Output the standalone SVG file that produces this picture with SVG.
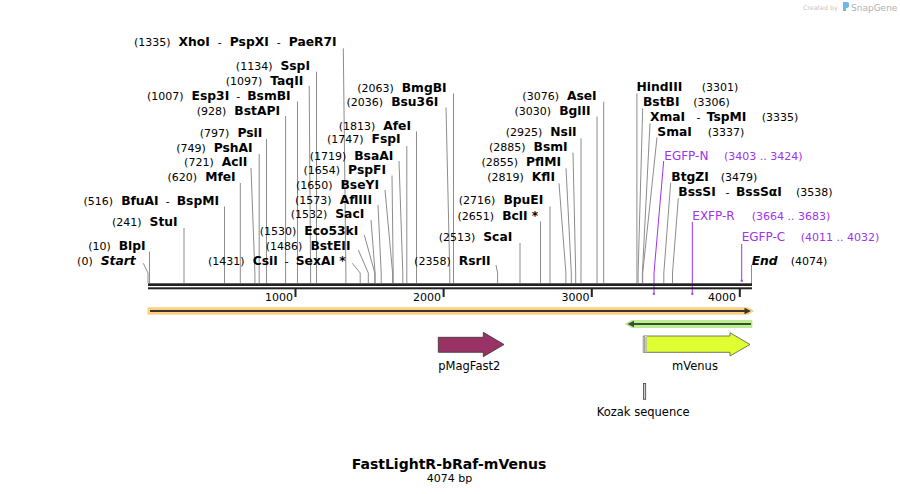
<svg xmlns="http://www.w3.org/2000/svg" width="900" height="494" viewBox="0 0 900 494">
<style>
text{font-family:"DejaVu Sans",Verdana,sans-serif;fill:#000}
.n{font-size:11px}
.b{font-size:12.3px;font-weight:bold}
.bi{font-size:12.3px;font-weight:bold;font-style:italic}
.p{fill:#a033ee}
.pf{font-size:12px}
.f{font-size:11.5px}
.ld{fill:none;stroke:#8c8c8c;stroke-width:1}
.pl{fill:none;stroke:#a033ee;stroke-width:1}
.seq{fill:#222}
</style>
<rect width="900" height="494" fill="#fff"/>

<g id="watermark">
<text x="803" y="10" style="font-size:6.3px;fill:#c4c4c4">Created by</text>
<path d="M843,2 h4 a2,2 0 0 1 2,2 v2 a2,2 0 0 1 -2,2 h-1 v3 h-3 z" fill="#6fb7e8"/>
<text x="851" y="11" style="font-size:9px;fill:#b0b0b0">SnapGene</text>
</g>

<g id="connectors">
<path class="pl" d="M663.7,161 L654,273 V294"/>
<rect x="652.8" y="292.8" width="2" height="2" fill="#a033ee"/>
<path class="pl" d="M692.3,222 V294"/>
<rect x="691.3" y="292.8" width="2" height="2" fill="#a033ee"/>
<path class="pl" d="M741.7,244 V281"/>
<rect x="740.7" y="279.8" width="2" height="2" fill="#a033ee"/>

<path class="ld" d="M343.3,48.3 L345.9,273 V283"/>
<path class="ld" d="M316.5,71.7 V283"/>
<path class="ld" d="M309.2,85.7 L310.6,273 V283"/>
<path class="ld" d="M297.5,101.5 V283"/>
<path class="ld" d="M285.6,116 V283"/>
<path class="ld" d="M266.5,139 V283"/>
<path class="ld" d="M259.2,154 V283"/>
<path class="ld" d="M251,168 L254.9,273 V283"/>
<path class="ld" d="M240.3,183 V283"/>
<path class="ld" d="M224.5,206.5 V283"/>
<path class="ld" d="M184,228 V283"/>
<path class="ld" d="M149.5,251.5 V283"/>
<path class="ld" d="M143.3,263.3 L148,273 V283"/>
<path class="ld" d="M352.3,263.3 L360.2,273 V283"/>
<path class="ld" d="M358.3,250 L368.3,273 V283"/>
<path class="ld" d="M364.3,235 L374.8,273 V283"/>
<path class="ld" d="M371,220 L375.1,273 V283"/>
<path class="ld" d="M378,205 L381.2,273 V283"/>
<path class="ld" d="M385,190 L392.6,273 V283"/>
<path class="ld" d="M392,175.5 L393.2,273 V283"/>
<path class="ld" d="M399,161 L402.8,273 V283"/>
<path class="ld" d="M406.8,146 V283"/>
<path class="ld" d="M416.5,131.5 V283"/>
<path class="ld" d="M446,107.5 L449.8,273 V283"/>
<path class="ld" d="M453.5,93.5 V283"/>
<path class="ld" d="M496,265 L497.6,273 V283"/>
<path class="ld" d="M520,243 V283"/>
<path class="ld" d="M540.5,221.5 V283"/>
<path class="ld" d="M550,206.5 V283"/>
<path class="ld" d="M559,183.3 L565.9,273 V283"/>
<path class="ld" d="M566,168.3 L571.3,273 V283"/>
<path class="ld" d="M573,152.7 L575.7,273 V283"/>
<path class="ld" d="M581,138.3 V283"/>
<path class="ld" d="M597,116.5 V283"/>
<path class="ld" d="M603.7,101.7 V283"/>
<path class="ld" d="M636.9,93.3 V283"/>
<path class="ld" d="M642.7,108.3 L638.1,273 V283"/>
<path class="ld" d="M650,123.3 L642.4,273 V283"/>
<path class="ld" d="M657,137.3 L642.7,273 V283"/>
<path class="ld" d="M670.7,182.7 L663.8,273 V283"/>
<path class="ld" d="M678.3,198.3 L672.5,273 V283"/>
<path class="ld" d="M751.5,265 V285"/>
</g>

<g id="sequence">
<rect class="seq" x="148" y="283.3" width="604" height="2.7"/>
<rect class="seq" x="148" y="287.3" width="604" height="2"/>
<rect class="seq" x="294.5" y="289" width="2" height="8"/>
<rect class="seq" x="442.6" y="289" width="2" height="8"/>
<rect class="seq" x="590.8" y="289" width="2" height="8"/>
<rect class="seq" x="738.8" y="289" width="2" height="8"/>
<text class="n" x="293" y="301" text-anchor="end">1000</text>
<text class="n" x="441" y="301" text-anchor="end">2000</text>
<text class="n" x="589.5" y="301" text-anchor="end">3000</text>
<text class="n" x="736" y="301" text-anchor="end">4000</text>
</g>

<g id="labels-left">
<text x="336.7" y="46" text-anchor="end"><tspan class="n">(1335)</tspan><tspan class="b" dx="8">XhoI</tspan><tspan class="n" dx="8">-</tspan><tspan class="b" dx="8">PspXI</tspan><tspan class="n" dx="8">-</tspan><tspan class="b" dx="8">PaeR7I</tspan></text>
<text x="310" y="69.5" text-anchor="end"><tspan class="n">(1134)</tspan><tspan class="b" dx="8">SspI</tspan></text>
<text x="303.3" y="84.5" text-anchor="end"><tspan class="n">(1097)</tspan><tspan class="b" dx="8">TaqII</tspan></text>
<text x="290.7" y="99.5" text-anchor="end"><tspan class="n">(1007)</tspan><tspan class="b" dx="8">Esp3I</tspan><tspan class="n" dx="7">-</tspan><tspan class="b" dx="7">BsmBI</tspan></text>
<text x="280" y="114.5" text-anchor="end"><tspan class="n">(928)</tspan><tspan class="b" dx="8">BstAPI</tspan></text>
<text x="262.3" y="137" text-anchor="end"><tspan class="n">(797)</tspan><tspan class="b" dx="8">PsiI</tspan></text>
<text x="252.7" y="152" text-anchor="end"><tspan class="n">(749)</tspan><tspan class="b" dx="8">PshAI</tspan></text>
<text x="247.3" y="166" text-anchor="end"><tspan class="n">(721)</tspan><tspan class="b" dx="8">AclI</tspan></text>
<text x="235.7" y="181" text-anchor="end"><tspan class="n">(620)</tspan><tspan class="b" dx="8">MfeI</tspan></text>
<text x="219" y="204.5" text-anchor="end"><tspan class="n">(516)</tspan><tspan class="b" dx="8">BfuAI</tspan><tspan class="n" dx="7">-</tspan><tspan class="b" dx="7">BspMI</tspan></text>
<text x="177.7" y="226" text-anchor="end"><tspan class="n">(241)</tspan><tspan class="b" dx="8">StuI</tspan></text>
<text x="145.7" y="249.5" text-anchor="end"><tspan class="n">(10)</tspan><tspan class="b" dx="8">BlpI</tspan></text>
<text x="135.7" y="264.5" text-anchor="end"><tspan class="n">(0)</tspan><tspan class="bi" dx="8">Start</tspan></text>
<text x="345.7" y="264.5" text-anchor="end"><tspan class="n">(1431)</tspan><tspan class="b" dx="8">CsiI</tspan><tspan class="n" dx="7">-</tspan><tspan class="b" dx="7">SexAI *</tspan></text>
<text x="350.5" y="249.5" text-anchor="end"><tspan class="n">(1486)</tspan><tspan class="b" dx="8">BstEII</tspan></text>
<text x="358.3" y="234.5" text-anchor="end"><tspan class="n">(1530)</tspan><tspan class="b" dx="8">Eco53kI</tspan></text>
<text x="364.3" y="218" text-anchor="end"><tspan class="n">(1532)</tspan><tspan class="b" dx="8">SacI</tspan></text>
<text x="372" y="204" text-anchor="end"><tspan class="n">(1573)</tspan><tspan class="b" dx="8">AflIII</tspan></text>
<text x="379" y="189" text-anchor="end"><tspan class="n">(1650)</tspan><tspan class="b" dx="8">BseYI</tspan></text>
<text x="386" y="174" text-anchor="end"><tspan class="n">(1654)</tspan><tspan class="b" dx="8">PspFI</tspan></text>
<text x="393.3" y="159.5" text-anchor="end"><tspan class="n">(1719)</tspan><tspan class="b" dx="8">BsaAI</tspan></text>
<text x="400.7" y="143" text-anchor="end"><tspan class="n">(1747)</tspan><tspan class="b" dx="8">FspI</tspan></text>
<text x="411" y="129.5" text-anchor="end"><tspan class="n">(1813)</tspan><tspan class="b" dx="8">AfeI</tspan></text>
<text x="438.3" y="106" text-anchor="end"><tspan class="n">(2036)</tspan><tspan class="b" dx="8">Bsu36I</tspan></text>
<text x="446.7" y="92" text-anchor="end"><tspan class="n">(2063)</tspan><tspan class="b" dx="8">BmgBI</tspan></text>
<text x="490.7" y="264.5" text-anchor="end"><tspan class="n">(2358)</tspan><tspan class="b" dx="8">RsrII</tspan></text>
<text x="512.3" y="240.5" text-anchor="end"><tspan class="n">(2513)</tspan><tspan class="b" dx="8">ScaI</tspan></text>
<text x="538.3" y="219.5" text-anchor="end"><tspan class="n">(2651)</tspan><tspan class="b" dx="8">BclI *</tspan></text>
<text x="543.3" y="204" text-anchor="end"><tspan class="n">(2716)</tspan><tspan class="b" dx="8">BpuEI</tspan></text>
<text x="555" y="181" text-anchor="end"><tspan class="n">(2819)</tspan><tspan class="b" dx="8">KflI</tspan></text>
<text x="561" y="166" text-anchor="end"><tspan class="n">(2855)</tspan><tspan class="b" dx="8">PflMI</tspan></text>
<text x="567.7" y="151" text-anchor="end"><tspan class="n">(2885)</tspan><tspan class="b" dx="8">BsmI</tspan></text>
<text x="576.7" y="136" text-anchor="end"><tspan class="n">(2925)</tspan><tspan class="b" dx="8">NsiI</tspan></text>
<text x="590.7" y="114.5" text-anchor="end"><tspan class="n">(3030)</tspan><tspan class="b" dx="8">BglII</tspan></text>
<text x="596.7" y="99.5" text-anchor="end"><tspan class="n">(3076)</tspan><tspan class="b" dx="8">AseI</tspan></text>
</g>

<g id="labels-right">
<text y="91"><tspan class="b" x="636.5">HindIII</tspan><tspan class="n" x="701.7">(3301)</tspan></text>
<text y="106"><tspan class="b" x="643">BstBI</tspan><tspan class="n" x="693.3">(3306)</tspan></text>
<text y="121"><tspan class="b" x="650">XmaI</tspan><tspan class="n" x="696.5">-</tspan><tspan class="b" x="706.7">TspMI</tspan><tspan class="n" x="761.7">(3335)</tspan></text>
<text y="136"><tspan class="b" x="657.3">SmaI</tspan><tspan class="n" x="707.7">(3337)</tspan></text>
<text y="181"><tspan class="b" x="671.3">BtgZI</tspan><tspan class="n" x="720.7">(3479)</tspan></text>
<text y="196"><tspan class="b" x="678.3">BssSI</tspan><tspan class="n" x="725.5">-</tspan><tspan class="b" x="736">BssSαI</tspan><tspan class="n" x="796">(3538)</tspan></text>
<text y="264.5"><tspan class="bi" x="751.7">End</tspan><tspan class="n" x="790.7">(4074)</tspan></text>
</g>

<g id="primers">
<text y="159.5"><tspan class="pf p" x="664.3">EGFP-N</tspan><tspan class="n p" x="724">(3403 .. 3424)</tspan></text>
<text y="219.5"><tspan class="pf p" x="692.3">EXFP-R</tspan><tspan class="n p" x="751.7">(3664 .. 3683)</tspan></text>
<text y="241"><tspan class="pf p" x="741.7">EGFP-C</tspan><tspan class="n p" x="800.7">(4011 .. 4032)</tspan></text>
</g>

<g id="feature-orange">
<path d="M148,307.8 H748 L753.5,311 L748,314.2 H148 Z" fill="#ffd383" stroke="#f5bd5c" stroke-width="0.6"/>
<line x1="150" y1="311" x2="746" y2="311" stroke="#3a3530" stroke-width="2"/>
<path d="M744.5,307.8 L751,311 L744.5,314.2 Z" fill="#3a3530"/>
</g>

<g id="feature-green">
<path d="M625.5,324 L631.5,320.5 H752 V327.5 H631.5 Z" fill="#b9f28c" stroke="#a5e07a" stroke-width="0.6"/>
<line x1="632" y1="324" x2="751" y2="324" stroke="#3f4a38" stroke-width="2"/>
<path d="M627.5,324 L634,320.8 L634,327.2 Z" fill="#3f4a38"/>
</g>

<g id="pMagFast2">
<path d="M438.3,337.3 H483.3 V332.3 L504,344.5 L483.3,356.7 V352.3 H438.3 Z" fill="#993366" stroke="#333" stroke-width="0.8"/>
<text class="f" x="438.3" y="369.5">pMagFast2</text>
</g>

<g id="mVenus">
<path d="M643.3,336 H730 V332.7 L750,344.5 L730,356 V352.3 H643.3 Z" fill="#e0ff33" stroke="#555" stroke-width="0.8"/>
<rect x="643.5" y="336.3" width="3.2" height="15.8" fill="#fff"/>
<line x1="644.3" y1="336.5" x2="644.3" y2="352" stroke="#000" stroke-width="0.9" stroke-dasharray="1,1"/>
<line x1="646" y1="337.5" x2="646" y2="352" stroke="#000" stroke-width="0.9" stroke-dasharray="1,1"/>
<text class="f" x="695" y="369.5" text-anchor="middle">mVenus</text>
</g>

<g id="kozak">
<rect x="643.5" y="383.5" width="2.2" height="15.8" fill="#ccc" stroke="#444" stroke-width="0.8"/>
<text class="f" x="643.2" y="416" text-anchor="middle">Kozak sequence</text>
</g>

<g id="title">
<text x="449" y="468.5" text-anchor="middle" style="font-size:14px;font-weight:bold">FastLightR-bRaf-mVenus</text>
<text x="449.5" y="482" text-anchor="middle" style="font-size:11px">4074 bp</text>
</g>
</svg>
